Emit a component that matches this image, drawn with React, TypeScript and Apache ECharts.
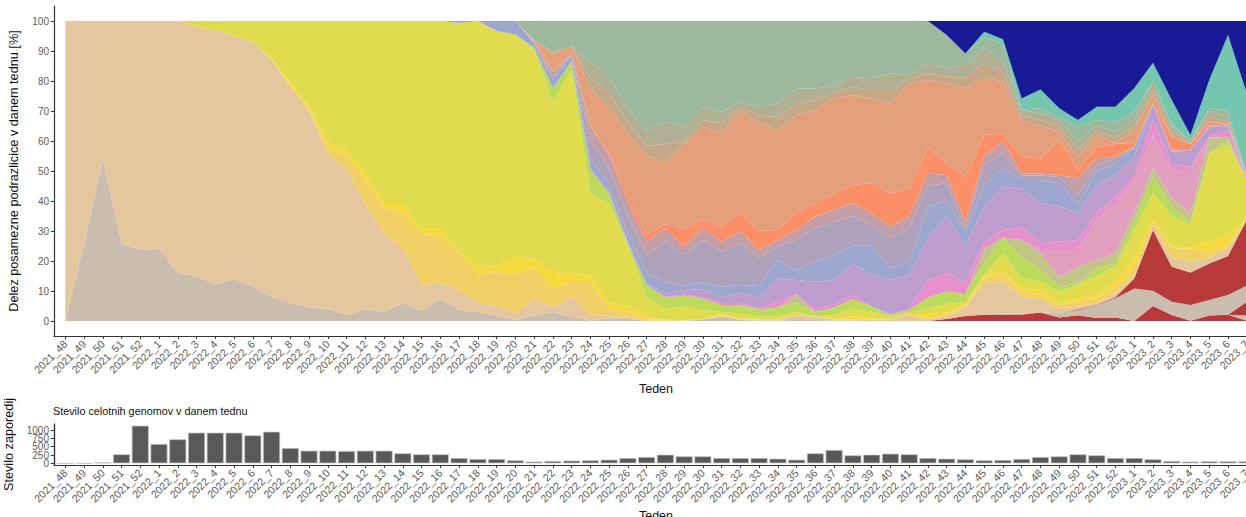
import React, { useEffect, useRef } from "react";
import * as echarts from "echarts";

const weeks = [
  "2021_48","2021_49","2021_50","2021_51","2021_52",
  "2022_1","2022_2","2022_3","2022_4","2022_5","2022_6","2022_7","2022_8","2022_9","2022_10",
  "2022_11","2022_12","2022_13","2022_14","2022_15","2022_16","2022_17","2022_18","2022_19","2022_20",
  "2022_21","2022_22","2022_23","2022_24","2022_25","2022_26","2022_27","2022_28","2022_29","2022_30",
  "2022_31","2022_32","2022_33","2022_34","2022_35","2022_36","2022_37","2022_38","2022_39","2022_40",
  "2022_41","2022_42","2022_43","2022_44","2022_45","2022_46","2022_47","2022_48","2022_49","2022_50",
  "2022_51","2022_52","2023_1","2023_2","2023_3","2023_4","2023_5","2023_6","2023_7",
];

const genomeCounts = [
  0,0,30,270,1130,580,720,920,920,920,
  840,950,460,380,380,370,380,380,300,270,
  270,160,130,130,90,50,70,80,90,110,
  160,190,260,210,210,160,160,160,140,110,
  300,400,240,260,290,270,160,140,120,90,
  100,130,190,210,270,240,160,160,120,70,
  50,60,60,60,
];

// Upper edge, in percent, of each stacked band (bottom band first).
const lowRedTop = [
  0,0,0,0,0,0,0,0,0,0, 0,0,0,0,0,0,0,0,0,0,
  0,0,0,0,0,0,0,0,0,0, 0,0,0,0,0,0,0,0,0,0,
  0,0,0,0,0,0,0,0.7,1.7,2.1, 2,2.2,2.8,1.2,1.9,1,1.2,0,5,2,
  0.1,1.8,2.1,0.1,
];
const sliverTop = [
  0,0,0,0,0,0,0,0,0,0, 0,0,0,0,0,0,0,0,0,0,
  0,0,0,0,0,0,0,0,0,0, 0,0,0,0,0,0,0,0,0,0,
  0,0,0,0,0,0,0,0.7,1.7,2.1, 2,2.2,2.8,1.2,1.9,1,1.2,0,5,2,
  0.1,1.8,2.1,1.8,
];
const midRedTop = [
  0,0,0,0,0,0,0,0,0,0, 0,0,0,0,0,0,0,0,0,0,
  0,0,0,0,0,0,0,0,0,0, 0,0,0,0,0,0,0,0,0,0,
  0,0,0,0,0,0,0,0.7,1.7,2.1, 2,2.2,2.8,1.2,1.9,1,1.2,0,5,2,
  0.1,1.8,2.1,6.4,
];
const grayTop = [
  0,25.3,54,26,23.7,24,16,15,12.2,14, 11.6,8,6,4.5,4,2,4,3,6,3.5,
  7.3,3.7,3,1.8,0.3,1.8,3,1.4,0.2,0.9, 0.7,0.1,0,0,0.5,1.4,0.3,0.2,0.2,0.3,
  0.3,0.2,0.1,0,0,0,0,0.7,1.7,2.2, 2.5,2.4,2.9,2.6,3.7,5.3,7.6,10.8,10.1,6.4,
  5.3,7,8.7,11.8,
];
const highRedTop = [
  0,25.3,54,26,23.7,24,16,15,12.2,14, 11.6,8,6,4.5,4,2,4,3,6,3.5,
  7.3,3.7,3,1.8,0.3,1.8,3,1.4,0.2,0.9, 0.7,0.1,0,0,0.5,1.4,0.3,0.2,0.2,0.3,
  0.3,0.2,0.1,0,0,0,0,0.7,1.7,2.2, 2.5,2.4,2.9,2.6,3.9,5.5,7.9,14.2,30.3,18.1,
  16.2,19.2,21.7,33.7,
];
const peachTop = [
  100,100,100,100,100,100,100,98,97,95, 92.8,87,78,70,55.7,50.3,39.2,29,23.9,11.7,
  12.7,10.3,6,5,2.4,7.3,4.6,8,2,1.7, 1.2,0.2,0.1,0.1,0.5,1.5,0.5,0.5,0.5,1.8,
  1.3,0.5,0.5,0.5,0.5,2,0.5,1.5,4.5,12.6, 12.8,8.1,7,4.2,4.8,5.9,9.2,14.8,32,21,
  19.8,20.9,24.2,33.7,
];
const goldTop = [
  100,100,100,100,100,100,100,98,97,95, 92.8,87.3,78.5,71,58,55,47,37.5,36.5,29,
  28.5,22.5,15.7,16.4,15.5,18,11,13,13,4.2, 3.1,0.7,0.3,0.2,0.6,1.8,0.6,0.5,0.5,1.9,
  1.4,0.7,0.6,0.6,0.6,2.1,1,2,5,14.2, 15.7,10,8.7,5.3,6.4,7.6,11.4,18,33,24.2,
  24.2,22.9,25.3,33.9,
];
const brightTop = [
  100,100,100,100,100,100,100,98,97,95, 92.8,87.5,79.5,72,59.5,56.5,49,39,39,30.5,
  30.5,23,18,18.2,21.4,20.5,16.5,15.7,15.2,6, 5,1.4,0.4,0.3,0.7,2.3,0.8,0.7,0.7,2,
  1.5,0.9,1.7,0.9,0.6,2.3,2.3,2.8,5.3,15, 16.5,10.9,10.3,5.9,7.6,8.7,13.1,21.4,34.2,24.8,
  24.4,26.4,28.3,34,
];
const yellowTop = [
  100,100,100,100,100,100,100,100,100,100, 100,100,100,100,100,100,100,100,100,100,
  100,99.3,100,96.5,95.3,90.3,72.8,83.7,42.5,39, 25,8,4.2,4.8,3.7,3,2.5,1.4,1.7,3.1,
  1.6,2,4.2,3.1,1.4,2.8,4.2,5.7,6.4,15.5, 22.6,14.2,13.1,9.8,12,14.8,18.1,30.3,42.6,34.8,
  32,55.9,58.7,47,
];
const limeTop = [
  100,100,100,100,100,100,100,100,100,100, 100,100,100,100,100,100,100,100,100,100,
  100,99.3,100,96.7,95.5,91,77.5,86.4,50.3,42.5, 25.8,12,7.8,8.4,7.4,5.3,5.3,3.9,4.5,5.9,
  3,4.5,7.3,4.8,2,3.7,7.8,9.8,8.9,19.2, 27.6,21.4,17,11.4,12.6,17.6,19.2,33,48,38,
  32.8,55.9,60.3,47,
];
const oliveTop = [
  100,100,100,100,100,100,100,100,100,100, 100,100,100,100,100,100,100,100,100,100,
  100,99.3,100,96.7,95.5,91,77.5,86.4,50.3,42.5, 25.8,12,7.8,8.4,7.4,5.3,5.3,3.9,4.5,8.7,
  3,4.5,7.3,4.8,2,3.7,7.8,9.8,8.9,24.2, 27.8,27,22.6,14.5,18,20.3,22.6,36,51,41,
  35.9,61.2,61,47,
];
const dustyTop = [
  100,100,100,100,100,100,100,100,100,100, 100,100,100,100,100,100,100,100,100,100,
  100,99.3,100,96.7,95.5,91,77.5,86.4,50.3,42.5, 25.8,12,7.8,8.4,7.4,5.3,5.3,3.9,4.5,8.7,
  3,4.5,7.3,4.8,2,3.7,7.8,9.8,8.9,24.2, 27.8,27,23.7,23.7,23.7,33.7,39.2,47,62,50.3,
  50.3,61.2,61.4,47,
];
const pinkTop = [
  100,100,100,100,100,100,100,100,100,100, 100,100,100,100,100,100,100,100,100,100,
  100,99.3,100,96.7,95.5,91,77.5,86.4,50.3,42.5, 25.8,12,8,8.8,7.8,6,6,4.2,6.4,8.9,
  4.2,5.5,8.7,4.8,2.3,3.9,13.7,15.9,12.6,26.1, 30.3,31.4,25.9,26.4,27,35.9,41.4,48.7,67.2,52,
  51.4,61.4,63.7,47.2,
];
const purpleTop = [
  100,100,100,100,100,100,100,100,100,100, 100,100,100,100,100,100,100,100,100,100,
  100,99.3,100,96.7,95.5,91.2,77.7,86.6,51,43.5, 26.3,12.5,9.2,10.3,10.6,8,9.4,7.8,14.2,13.7,
  13,13.7,19.2,15.3,13.7,15.3,27.6,35,25,38.1, 44.8,44.2,39.2,38.3,35.9,45.3,48.7,54.8,72,56.4,
  56.8,64.8,65,47.5,
];
const blueTop = [
  100,100,100,100,100,100,100,100,100,100, 100,100,100,100,100,100,100,100,100,100,
  100,99.3,100,100,100,92.5,80.3,88.7,53.7,45.9, 29,15.9,12.9,11.7,12.8,11.4,12,11.7,20.3,16.8,
  20,22,25.1,25.1,17.6,20,38.1,40.3,29.8,45.3, 50.9,47,47,45.9,39,50.1,52.6,57.6,72.3,56.6,
  57,65.2,65.2,47.6,
];
const mauveTop = [
  100,100,100,100,100,100,100,100,100,100, 100,100,100,100,100,100,100,100,100,100,
  100,100,100,100,100,92.6,81.5,88.8,60,51, 35,22,26.5,22,27,23,26,21,25,27,
  31,33,35,32,28,31,45,46,31,52, 55.9,48.5,48.5,48,42,52,54,57.8,72.4,56.7,
  57,65.25,65.25,47.7,
];
const roseTop = [
  100,100,100,100,100,100,100,100,100,100, 100,100,100,100,100,100,100,100,100,100,
  100,100,100,100,100,92.8,83,88.9,64.8,55.3, 40,26.4,30.9,24.8,30.9,26.4,29.8,23.7,26.8,30.3,
  34.8,37.2,39.2,35.9,31.4,34.8,49.2,48.7,33.1,54.8, 59.8,49.2,49.2,48.7,47.6,54.2,54.8,58,72.5,56.8,
  57,65.3,65.3,47.8,
];
const salmonTop = [
  100,100,100,100,100,100,100,100,100,100, 100,100,100,100,100,100,100,100,100,100,
  100,100,100,100,100,92.9,83.2,89,65.3,56, 42.5,29,32.3,30.6,33.9,31.7,36.4,30,30.3,36.4,
  39,42.5,45.3,46,42.5,44.2,58,52.6,48,62, 62.6,54.8,54.2,60.3,50.3,58,59,59.5,72.6,61.4,
  59,66.4,65.5,48,
];
const terracottaTop = [
  100,100,100,100,100,100,100,100,100,100, 100,100,100,100,100,100,100,100,100,100,
  100,100,100,100,100,93.5,89.2,91.7,77.6,71, 62.5,55,53.1,59.2,64.8,62.5,70.3,66,63.7,68.7,
  70.3,74.2,75.3,74.2,72.3,79,80.3,79.2,77.6,81.2, 79.8,66.8,65,63.1,54.6,62.3,59.4,63.7,75.3,61.6,
  59.2,66.6,65.7,48.2,
];
const clayTop = [
  100,100,100,100,100,100,100,100,100,100, 100,100,100,100,100,100,100,100,100,100,
  100,100,100,100,100,93.6,89.3,91.7,81,76, 66,58.3,59,60,67,66,71.3,68.5,68,72.5,
  73.5,76,78,77,77,80.5,82.5,81.5,81,86, 83,68.5,67,65,57,63.5,61,65,77,63,
  59.5,68,66.5,48.3,
];
const tanTop = [
  100,100,100,100,100,100,100,100,100,100, 100,100,100,100,100,100,100,100,100,100,
  100,100,100,100,100,93.7,89.4,91.7,86.4,81.4, 70.9,63.4,66.4,64.8,71.2,69.8,73,71.6,72.5,77.5,
  77.5,78.3,81.4,80.9,82.6,82,85.9,84.2,85.3,91.4, 86.4,70.3,69.2,67,60,65,63,67,80,65,
  60,70,68,48.5,
];
const sageTop = [
  100,100,100,100,100,100,100,100,100,100, 100,100,100,100,100,100,100,100,100,100,
  100,100,100,100,100,100,100,100,100,100, 100,100,100,100,100,100,100,100,100,100,
  100,100,100,100,100,100,100,95.3,89.2,94.5, 92.5,70.5,70.9,68,64.8,67,66.4,69.8,80,65.5,
  60,71,70,49,
];
const tealTop = [
  100,100,100,100,100,100,100,100,100,100, 100,100,100,100,100,100,100,100,100,100,
  100,100,100,100,100,100,100,100,100,100, 100,100,100,100,100,100,100,100,100,100,
  100,100,100,100,100,100,100,95.3,89.2,96.4, 93.9,74.2,77.2,70.9,67,71.4,71.4,77.6,86.1,73.7,
  62,80.3,95.3,75.9,
];
const navyTop = [
  100,100,100,100,100,100,100,100,100,100, 100,100,100,100,100,100,100,100,100,100,
  100,100,100,100,100,100,100,100,100,100, 100,100,100,100,100,100,100,100,100,100,
  100,100,100,100,100,100,100,100,100,100, 100,100,100,100,100,100,100,100,100,100,
  100,100,100,100,
];

const bands: [string, string, number[]][] = [
  ["lowRed", "#B8393A", lowRedTop],
  ["sliver", "#CABDAD", sliverTop],
  ["midRed", "#B8393A", midRedTop],
  ["gray", "#CABDAD", grayTop],
  ["highRed", "#B8393A", highRedTop],
  ["peach", "#E4C79E", peachTop],
  ["gold", "#F1D068", goldTop],
  ["bright", "#F8D93C", brightTop],
  ["yellow", "#E0DC4E", yellowTop],
  ["lime", "#BCDB5A", limeTop],
  ["olive", "#C3C588", oliveTop],
  ["dusty", "#E09FBC", dustyTop],
  ["pink", "#E68FCA", pinkTop],
  ["purple", "#BE9DCE", purpleTop],
  ["blue", "#9CA6CE", blueTop],
  ["mauve", "#ADA1BB", mauveTop],
  ["rose", "#C39EA6", roseTop],
  ["salmon", "#FB8F67", salmonTop],
  ["terracotta", "#E39E7A", terracottaTop],
  ["clay", "#C6A888", clayTop],
  ["tan", "#AFB094", tanTop],
  ["sage", "#9CB99E", sageTop],
  ["teal", "#74C6AE", tealTop],
  ["navy", "#191A96", navyTop],
];

const weekIndexes = weeks.map((_, i) => i);
const percentTicks = [0, 10, 20, 30, 40, 50, 60, 70, 80, 90, 100];
// The count axis is drawn twice over the same range, so that its tightly packed labels are all kept.
const countTicksMajor = [0, 500, 1000];
const countTicksMinor = [250, 750];

const FONT = "Liberation Sans";
const TICK_COLOR = "#5c5c5c";
const AXIS_COLOR = "#333333";

function xAxisFor(gridIndex: number, nameGap: number) {
  return {
    type: "value",
    gridIndex,
    min: -0.6,
    max: 63.6,
    name: "Teden",
    nameLocation: "middle",
    nameGap,
    nameTextStyle: { color: "#111", fontSize: 12.5, fontFamily: FONT },
    splitLine: { show: false },
    axisLine: { onZero: false, lineStyle: { color: AXIS_COLOR, width: 1.2 } },
    axisTick: { length: 3, customValues: weekIndexes, lineStyle: { color: AXIS_COLOR } },
    axisLabel: {
      customValues: weekIndexes,
      rotate: 45,
      margin: 6,
      fontSize: 10.7,
      fontFamily: FONT,
      color: TICK_COLOR,
      hideOverlap: false,
      formatter: (v: number) => weeks[v],
    },
  };
}

function yAxisFor(
  gridIndex: number, min: number, max: number, ticks: number[],
  name: string, nameGap: number,
) {
  return {
    type: "value",
    gridIndex,
    min,
    max,
    name,
    nameLocation: "middle",
    nameGap,
    nameTextStyle: { color: "#111", fontSize: 12.7, fontFamily: FONT },
    splitLine: { show: false },
    axisLine: { show: true, onZero: false, lineStyle: { color: AXIS_COLOR, width: 1.2 } },
    axisTick: { show: true, length: 3, customValues: ticks, lineStyle: { color: AXIS_COLOR } },
    axisLabel: {
      customValues: ticks,
      margin: 5,
      fontSize: 10,
      lineHeight: 12,
      hideOverlap: false,
      fontFamily: FONT,
      color: TICK_COLOR,
      formatter: (v: number) => String(v),
    },
  };
}

export default function App() {
  const ref = useRef<HTMLDivElement>(null);
  useEffect(() => {
    const chart = echarts.init(ref.current!, null, { renderer: "svg" });
    const areas = bands.map(([name, color, top], k) => ({
      name,
      type: "line",
      stack: "share",
      xAxisIndex: 0,
      yAxisIndex: 0,
      symbol: "none",
      silent: true,
      lineStyle: { width: 0 },
      itemStyle: { color },
      areaStyle: { color, opacity: 1 },
      encode: { x: 1, y: 0 },
      data: top.map((v, i) => {
        const below = k > 0 ? bands[k - 1][2][i] : 0;
        return [Math.round((v - below) * 100) / 100, i];
      }),
    }));
    chart.setOption({
      animation: false,
      backgroundColor: "#ffffff",
      title: {
        text: "Stevilo celotnih genomov v danem tednu",
        left: 53,
        top: 405,
        padding: 0,
        textStyle: { fontSize: 10.8, fontWeight: "normal", color: "#111", fontFamily: FONT },
      },
      grid: [
        { left: 54, top: 6, width: 1204, height: 330, outerBoundsMode: "none" },
        { left: 54, top: 424, width: 1204, height: 41, outerBoundsMode: "none" },
      ],
      xAxis: [xAxisFor(0, 39), xAxisFor(1, 44.5)],
      yAxis: [
        yAxisFor(0, -5, 105, percentTicks, "Delez posamezne podrazlicice v danem tednu [%]", 34),
        yAxisFor(1, -50, 1180, countTicksMajor, "Stevilo zaporedij", 34),
        {
          ...yAxisFor(1, -50, 1180, countTicksMinor, "", 34),
          position: "left",
          name: undefined,
        },
      ],
      series: [
        ...areas,
        {
          name: "Stevilo zaporedij",
          type: "bar",
          xAxisIndex: 1,
          yAxisIndex: 1,
          barWidth: 17,
          silent: true,
          itemStyle: { color: "#595959", borderColor: "#c4c4c4", borderWidth: 0.7 },
          data: genomeCounts.map((v, i) => [i, v]),
        },
      ],
    });
    return () => chart.dispose();
  }, []);
  return (
    <div style={{ position: "absolute", left: 0, top: 0, width: 1246, height: 517, overflow: "hidden" }}>
      <div ref={ref} style={{ width: 1300, height: 517 }} />
    </div>
  );
}
